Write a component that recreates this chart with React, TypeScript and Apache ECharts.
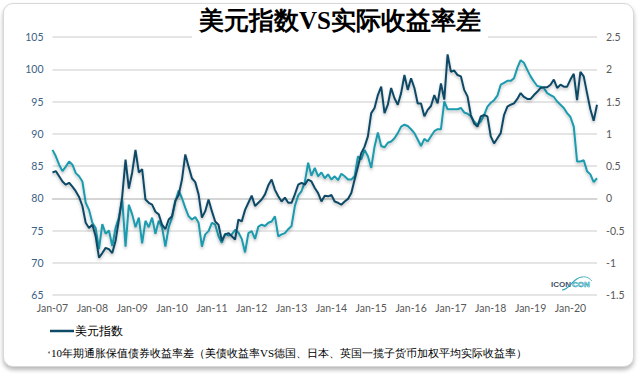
import React, { useEffect, useRef } from 'react';
import * as echarts from 'echarts';

const TITLE = '美元指数VS实际收益率差';
const NAME_DXY = '美元指数';
const NAME_SPREAD = '10年期通胀保值债券收益率差（美债收益率VS德国、日本、英国一揽子货币加权平均实际收益率）';

const YEAR_LABELS = ['Jan-07', 'Jan-08', 'Jan-09', 'Jan-10', 'Jan-11', 'Jan-12', 'Jan-13', 'Jan-14', 'Jan-15', 'Jan-16', 'Jan-17', 'Jan-18', 'Jan-19', 'Jan-20'];
const MONTH_NAMES = ['Jan', 'Feb', 'Mar', 'Apr', 'May', 'Jun', 'Jul', 'Aug', 'Sep', 'Oct', 'Nov', 'Dec'];

// Monthly dollar index, Jan-2007 .. Sep-2020 (left axis)
const DXY = [
  84.0, 84.2, 83.4, 82.6, 82.1, 82.4, 81.8, 81.1, 80.2, 78.8, 76.2, 75.4,
  75.9, 74.1, 70.8, 71.5, 72.3, 72.1, 71.5, 73.4, 76.7, 80.3, 86.0, 81.5,
  84.0, 87.5, 84.0, 84.5, 79.8, 79.3, 79.0, 77.9, 77.5, 75.9, 75.2, 76.7,
  77.2, 79.6, 80.5, 82.9, 86.8, 84.9, 83.1, 82.5, 80.6, 77.0, 78.0, 79.8,
  78.0, 76.4, 75.9, 73.4, 74.4, 74.6, 74.1, 73.6, 76.7, 76.4, 78.2, 79.3,
  80.4, 78.8, 79.3, 79.8, 80.6, 82.0, 82.9, 81.3, 80.3, 79.5, 80.1, 79.3,
  79.3, 80.6, 82.1, 82.4, 82.1, 82.9, 82.6, 81.6, 80.8, 79.5, 80.4, 80.3,
  80.5, 79.5, 79.3, 79.0, 79.5, 79.9, 80.8, 82.9, 84.9, 87.0, 88.0, 89.6,
  93.2, 94.0, 96.0, 97.3, 93.2, 94.5, 97.1, 95.5, 94.5, 96.3, 99.1, 96.8,
  98.6, 97.1, 94.7, 94.7, 92.7, 93.7, 94.3, 96.0, 94.7, 97.8, 95.3, 102.3,
  99.6, 99.8, 99.1, 98.9, 96.8, 95.8, 92.9, 91.6, 91.1, 92.7, 92.9, 92.7,
  89.6, 88.5, 89.3, 90.1, 92.9, 94.2, 94.5, 94.7, 95.4, 96.3, 95.7, 95.4,
  95.4, 96.0, 96.5, 97.1, 97.2, 97.2, 97.6, 98.4, 97.1, 97.6, 97.3, 97.3,
  98.4, 99.3, 95.2, 99.6, 98.9, 96.3, 93.8, 92.0, 94.5,
];

// Monthly real-yield spread, Jan-2007 .. Sep-2020 (right axis)
const SPREAD = [
  0.75, 0.65, 0.52, 0.42, 0.49, 0.57, 0.52, 0.39, 0.34, 0.26, -0.07, -0.18,
  -0.38, -0.46, -0.79, -0.40, -0.55, -0.50, -0.74, -0.46, -0.30, -0.02, -0.75, -0.10,
  -0.25, -0.45, -0.30, -0.70, -0.35, -0.45, -0.30, -0.55, -0.35, -0.45, -0.75, -0.45,
  -0.30, -0.05, 0.12, 0.00, -0.15, -0.28, -0.33, -0.29, -0.38, -0.75, -0.56, -0.51,
  -0.38, -0.41, -0.59, -0.69, -0.55, -0.58, -0.56, -0.49, -0.53, -0.63, -0.84, -0.54,
  -0.51, -0.63, -0.44, -0.41, -0.43, -0.38, -0.36, -0.28, -0.59, -0.56, -0.54, -0.48,
  -0.43, -0.12, 0.04, 0.11, 0.25, 0.55, 0.35, 0.47, 0.34, 0.40, 0.31, 0.37,
  0.29, 0.34, 0.28, 0.38, 0.34, 0.29, 0.29, 0.34, 0.65, 0.60, 0.75, 0.65,
  0.47, 0.80, 1.02, 0.81, 0.79, 0.86, 0.88, 0.93, 1.01, 1.11, 1.14, 1.12,
  1.07, 1.01, 0.91, 0.81, 0.92, 0.88, 0.96, 1.04, 1.07, 1.07, 1.50, 1.38,
  1.38, 1.38, 1.38, 1.40, 1.33, 1.31, 1.27, 1.19, 1.14, 1.19, 1.29, 1.42,
  1.48, 1.52, 1.59, 1.76, 1.79, 1.82, 1.82, 1.86, 2.02, 2.14, 2.10, 1.99,
  1.89, 1.81, 1.74, 1.73, 1.71, 1.63, 1.60, 1.57, 1.50, 1.45, 1.40, 1.32,
  1.26, 1.11, 0.57, 0.57, 0.59, 0.42, 0.37, 0.25, 0.31,
];

const CATEGORIES = DXY.map((_, i) => `${MONTH_NAMES[i % 12]}-${String(7 + Math.floor(i / 12)).padStart(2, '0')}`);

const NAVY = '#0f4a66';
const TEAL = '#1b9aae';
const AXIS_FONT = 'Lato, "Liberation Sans", sans-serif';

export default function App() {
  const ref = useRef<HTMLDivElement>(null);

  useEffect(() => {
    if (!ref.current) return;
    const chart = echarts.init(ref.current, null, { renderer: 'svg' });
    const lineShadow = { shadowColor: 'rgba(0,0,0,0.25)', shadowBlur: 3, shadowOffsetY: 2 };
    chart.setOption({
      animation: false,
      backgroundColor: 'transparent',
      title: {
        text: TITLE,
        left: 192,
        top: 4,
        backgroundColor: '#fff',
        padding: [4, 7, 8, 7],
        textStyle: { fontFamily: 'serif', fontWeight: 'bold', fontSize: 25, color: '#000' },
      },
      grid: { left: 52.5, right: 43, top: 37, bottom: 79, containLabel: false },
      legend: [
        {
          data: [NAME_DXY],
          left: 45,
          top: 320,
          icon: 'rect',
          itemWidth: 24,
          itemHeight: 2.5,
          itemGap: 4,
          textStyle: { fontFamily: 'serif', fontSize: 11.5, color: '#000', padding: [0, 0, 0, -4] },
          selectedMode: false,
        },
        {
          data: [{ name: NAME_SPREAD, itemStyle: { color: '#777' } }],
          left: 43,
          top: 342,
          icon: 'circle',
          itemWidth: 2,
          itemHeight: 2,
          textStyle: { fontFamily: 'serif', fontSize: 11, color: '#000', padding: [0, 0, 0, -4] },
          selectedMode: false,
        },
      ],
      xAxis: {
        type: 'category',
        data: CATEGORIES,
        boundaryGap: false,
        axisLine: { show: true, lineStyle: { color: '#d0d0d0', width: 1.5 } },
        axisTick: { show: false },
        axisLabel: {
          interval: 11,
          margin: 7,
          color: '#595959',
          fontFamily: AXIS_FONT,
          fontSize: 10.5,
          formatter: (_: string, idx: number) => YEAR_LABELS[Math.floor(idx / 12)] ?? '',
        },
        splitLine: { show: false },
      },
      yAxis: [
        {
          type: 'value',
          min: 65,
          max: 105,
          interval: 5,
          axisLine: { show: false },
          axisTick: { show: false },
          axisLabel: { color: '#3b6185', fontFamily: AXIS_FONT, fontSize: 10.5, margin: 9 },
          splitLine: { show: true, lineStyle: { color: '#dcdcdc', width: 1.5 } },
        },
        {
          type: 'value',
          min: -1.5,
          max: 2.5,
          interval: 0.5,
          axisLine: { show: false },
          axisTick: { show: false },
          axisLabel: { color: '#595959', fontFamily: AXIS_FONT, fontSize: 10.5, margin: 9 },
          splitLine: { show: false },
        },
      ],
      series: [
        {
          name: NAME_SPREAD,
          type: 'line',
          yAxisIndex: 1,
          data: SPREAD,
          showSymbol: false,
          symbol: 'none',
          lineStyle: { color: TEAL, width: 2, ...lineShadow },
          itemStyle: { color: TEAL },
          z: 2,
        },
        {
          name: NAME_DXY,
          type: 'line',
          yAxisIndex: 0,
          data: DXY,
          showSymbol: false,
          symbol: 'none',
          lineStyle: { color: NAVY, width: 2, ...lineShadow },
          itemStyle: { color: NAVY },
          z: 3,
        },
      ],
      graphic: [
        {
          type: 'text',
          x: 551,
          y: 280,
          style: { text: 'ICON', fill: '#3f5168', font: 'bold 8px "Liberation Sans", sans-serif' },
        },
        {
          type: 'text',
          x: 572,
          y: 280,
          style: { text: 'CON', fill: 'none', stroke: '#2aa3b5', lineWidth: 0.6, font: 'bold 8px "Liberation Sans", sans-serif' },
        },
        {
          type: 'bezierCurve',
          shape: { x1: 562, y1: 290, cpx1: 570, cpy1: 290, cpx2: 572, cpy2: 278, x2: 582, y2: 277 },
          style: { stroke: '#2aa3b5', lineWidth: 1.2, fill: 'none' },
        },
        {
          type: 'bezierCurve',
          shape: { x1: 582, y1: 277, cpx1: 587, cpy1: 276, cpx2: 590, cpy2: 279, x2: 592, y2: 281 },
          style: { stroke: '#2aa3b5', lineWidth: 0.8, fill: 'none' },
        },
      ],
    });
    return () => chart.dispose();
  }, []);

  return (
    <div style={{ position: 'fixed', left: 0, top: 0, width: 640, height: 374, background: '#fff' }}>
      <div
        style={{
          position: 'absolute',
          left: 3,
          top: 3,
          width: 629,
          height: 362,
          border: '1px solid #d8d8d8',
          borderRadius: 10,
          boxShadow: '0 3px 4px rgba(0,0,0,0.28)',
          background: '#fff',
        }}
      />
      <div ref={ref} style={{ position: 'absolute', left: 0, top: 0, width: 640, height: 374 }} />
    </div>
  );
}
